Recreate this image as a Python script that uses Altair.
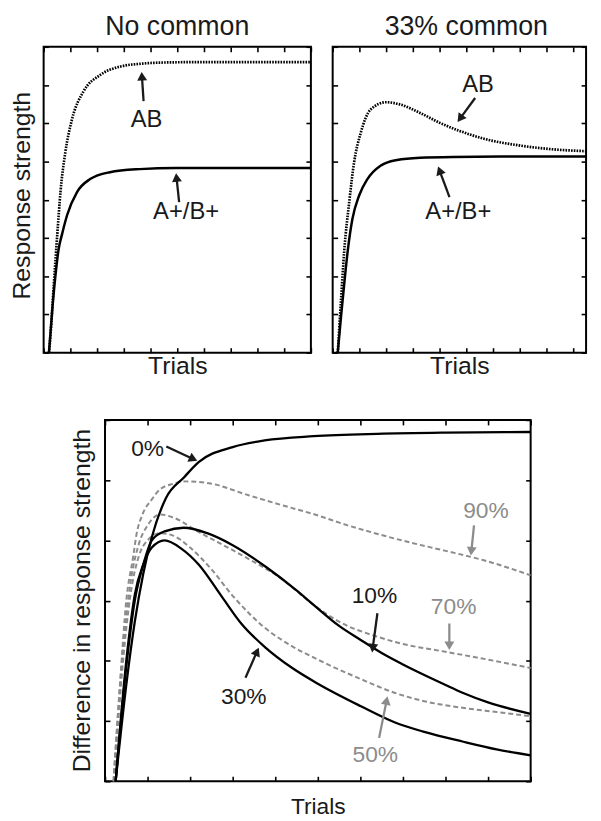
import math
import altair as alt
import pandas as pd

FONT = "Liberation Sans, Arial, Helvetica, sans-serif"
INK = "#1a1a1a"
GREY = "#8c8c8c"

# ---------------- data ----------------
# Top-left panel: "No common"
nc_ab_x = [0.2, 0.26, 0.38, 0.51, 0.63, 0.81, 1.06, 1.49, 2.11, 2.85, 3.7, 4.58, 6.0, 8.0, 10.0]
nc_ab_y = [0.0, 0.49, 1.78, 3.08, 4.2, 5.23, 6.1, 6.83, 7.26, 7.48, 7.56, 7.59, 7.6, 7.6, 7.6]
nc_ap_x = [0.2, 0.32, 0.44, 0.56, 0.69, 0.88, 1.25, 1.74, 2.48, 3.59, 4.95, 7.0, 10.0]
nc_ap_y = [0.0, 1.1, 2.0, 2.7, 3.1, 3.6, 4.2, 4.54, 4.72, 4.8, 4.83, 4.83, 4.83]
nc_labels = ["AB", "A+/B+"]
nc_label_x = [3.85, 5.33]
nc_label_y = [6.09, 3.68]
nc_arrow_x0 = [3.74, 5.07]
nc_arrow_y0 = [6.58, 3.94]
nc_arrow_x1 = [3.67, 4.96]
nc_arrow_y1 = [7.31, 4.66]

# Top-right panel: "33% common"
c33_ab_x = [0.19, 0.31, 0.43, 0.62, 0.8, 1.05, 1.42, 2.0, 2.53, 3.27, 4.01, 4.75, 5.74, 6.98, 8.21, 9.48]
c33_ab_y = [0.0, 1.35, 2.64, 3.94, 4.97, 5.75, 6.36, 6.55, 6.49, 6.27, 6.01, 5.8, 5.58, 5.42, 5.32, 5.27]
c33_ap_x = [0.19, 0.31, 0.43, 0.56, 0.74, 0.99, 1.3, 1.79, 2.41, 3.27, 4.5, 7.0, 9.48]
c33_ap_y = [0.0, 0.92, 1.78, 2.64, 3.5, 4.11, 4.54, 4.89, 5.04, 5.1, 5.12, 5.13, 5.13]
c33_labels = ["AB", "A+/B+"]
c33_label_x = [5.44, 4.7]
c33_label_y = [7.0, 3.68]
c33_arrow_x0 = [5.33, 4.37]
c33_arrow_y0 = [6.66, 4.07]
c33_arrow_x1 = [4.7, 3.96]
c33_arrow_y1 = [6.06, 4.84]

# Bottom panel: difference in response strength
d0_x = [0.25, 0.5, 0.7, 0.9, 1.1, 1.43, 1.86, 2.2, 3.0, 3.75, 4.9, 6.4, 8.0, 10.0]
d0_y = [0.0, 1.6, 2.65, 3.45, 4.05, 4.7, 5.05, 5.3, 5.55, 5.66, 5.73, 5.77, 5.79, 5.8]
d10_x = [0.25, 0.5, 0.7, 0.9, 1.1, 1.4, 1.85, 2.4, 3.0, 3.8, 4.5, 4.9, 5.5, 6.0, 6.5, 7.0, 8.0, 8.4, 9.0, 10.0]
d10_y = [0.0, 1.9, 3.0, 3.6, 4.0, 4.15, 4.21, 4.12, 3.92, 3.55, 3.17, 2.93, 2.58, 2.35, 2.13, 1.94, 1.6, 1.47, 1.31, 1.12]
d30_x = [0.25, 0.5, 0.7, 0.9, 1.1, 1.4, 1.8, 2.2, 2.74, 3.2, 3.77, 4.4, 5.0, 6.0, 6.8, 7.5, 8.4, 9.2, 10.0]
d30_y = [0.0, 2.0, 3.1, 3.6, 3.88, 4.0, 3.86, 3.6, 3.07, 2.62, 2.22, 1.88, 1.62, 1.25, 0.98, 0.82, 0.66, 0.53, 0.43]
d50_x = [0.22, 0.4, 0.6, 0.8, 1.0, 1.3, 1.6, 2.0, 2.5, 3.0, 3.77, 4.4, 5.0, 6.0, 6.8, 7.5, 8.4, 9.2, 10.0]
d50_y = [0.0, 1.8, 3.1, 3.75, 4.0, 4.12, 4.08, 3.88, 3.52, 3.08, 2.54, 2.24, 2.02, 1.7, 1.47, 1.33, 1.22, 1.15, 1.08]
d70_x = [0.2, 0.4, 0.6, 0.8, 1.0, 1.3, 1.6, 2.2, 3.2, 4.15, 4.9, 5.5, 6.4, 7.0, 8.0, 9.0, 10.0]
d70_y = [0.0, 2.0, 3.3, 3.95, 4.25, 4.43, 4.38, 4.14, 3.76, 3.36, 2.93, 2.65, 2.4, 2.28, 2.15, 2.02, 1.88]
d90_x = [0.2, 0.35, 0.5, 0.66, 0.74, 0.88, 1.1, 1.28, 1.6, 1.9, 2.44, 3.37, 4.23, 4.93, 5.7, 6.44, 7.2, 7.98, 8.9, 10.0]
d90_y = [0.0, 1.6, 3.0, 3.72, 4.1, 4.43, 4.68, 4.84, 4.94, 4.98, 4.95, 4.75, 4.57, 4.43, 4.25, 4.1, 3.96, 3.83, 3.67, 3.42]
d_labels = ["0%", "90%", "10%", "70%", "30%", "50%"]
d_label_color = [INK, GREY, INK, GREY, INK, GREY]
d_label_x = [1.0, 8.95, 6.33, 8.19, 3.26, 6.35]
d_label_y = [5.52, 4.49, 3.07, 2.9, 1.39, 0.44]
d_arrow_x0 = [1.44, 8.67, 6.4, 8.09, 3.3, 6.44]
d_arrow_y0 = [5.56, 4.25, 2.79, 2.62, 1.72, 0.72]
d_arrow_x1 = [2.14, 8.6, 6.28, 8.09, 3.6, 6.63]
d_arrow_y1 = [5.33, 3.77, 2.16, 2.2, 2.2, 1.39]

top_xticks = list(range(0, 11))
top_yticks = list(range(0, 9))
bot_xticks = list(range(0, 11))
bot_yticks = list(range(0, 7))


# ---------------- helpers ----------------
TICKS = dict(labels=False, domain=False, grid=False, ticks=True, tickSize=5,
             tickWidth=1.6, tickColor="black", offset=-5, minExtent=0, maxExtent=0)


def axis_bottom_left(w, h, xticks, yticks, xtitle, xfs, xty, ytitle, yfs, ytx, yty):
    tt = dict(titleFont=FONT, titleFontWeight="normal", titleColor=INK,
              titleBaseline="alphabetic", titleAlign="center")
    ax = alt.Axis(orient="bottom", values=xticks, title=xtitle, titleFontSize=xfs,
                  titleX=w / 2, titleY=xty, **tt, **TICKS)
    if ytitle:
        ay = alt.Axis(orient="left", values=yticks, title=ytitle, titleFontSize=yfs,
                      titleX=ytx, titleY=yty, titleAngle=270, **tt, **TICKS)
    else:
        ay = alt.Axis(orient="left", values=yticks, title=None, **TICKS)
    return ax, ay


def axis_top_right(xticks, yticks):
    return (alt.Axis(orient="top", values=xticks, title=None, **TICKS),
            alt.Axis(orient="right", values=yticks, title=None, **TICKS))


def panel(series, labels, lx, ly, lcol, ax0, ay0, ax1, ay1, xdom, ydom, xticks, yticks,
          w, h, label_fs, xtitle, xfs, xty, ytitle, yfs, ytx, yty, title=None, title_fs=27,
          title_dx=0, title_offset=10, title_dy=28):
    sx = w / (xdom[1] - xdom[0])
    sy = h / (ydom[1] - ydom[0])
    xs = alt.Scale(domain=xdom, nice=False, zero=False)
    ys = alt.Scale(domain=ydom, nice=False, zero=False)
    layers = []
    df0 = pd.DataFrame({"x": xdom, "y": ydom})
    axb, ayl = axis_bottom_left(w, h, xticks, yticks, xtitle, xfs, xty, ytitle, yfs, ytx, yty)
    layers.append(alt.Chart(df0).mark_point(opacity=0).encode(
        x=alt.X("x:Q", scale=xs, axis=axb), y=alt.Y("y:Q", scale=ys, axis=ayl)))
    axt, ayr = axis_top_right(xticks, yticks)
    layers.append(alt.Chart(df0).mark_point(opacity=0).encode(
        x=alt.X("x:Q", scale=xs, axis=axt), y=alt.Y("y:Q", scale=ys, axis=ayr)))
    for s in series:
        df = pd.DataFrame({"x": s["x"], "y": s["y"]})
        kw = dict(color=s["color"], strokeWidth=s["width"], interpolate="monotone")
        if s.get("dash"):
            kw["strokeDash"] = s["dash"]
        layers.append(alt.Chart(df).mark_line(**kw).encode(
            x=alt.X("x:Q", scale=xs, axis=None), y=alt.Y("y:Q", scale=ys, axis=None)))
    tdf = pd.DataFrame({"x": lx, "y": ly, "label": labels, "color": lcol})
    layers.append(alt.Chart(tdf).mark_text(font=FONT, fontSize=label_fs, align="center",
                                           baseline="middle").encode(
        x=alt.X("x:Q", scale=xs, axis=None), y=alt.Y("y:Q", scale=ys, axis=None),
        text="label:N", color=alt.Color("color:N", scale=None)))
    rows = []
    for x0, y0, x1, y1, c in zip(ax0, ay0, ax1, ay1, lcol):
        dx = (x1 - x0) * sx
        dy = -(y1 - y0) * sy
        L = math.hypot(dx, dy)
        ux, uy = dx / L, dy / L
        back = 4.5
        hx = x1 - ux * back / sx
        hy = y1 + uy * back / sy
        ang = math.degrees(math.atan2(dx, -dy)) % 360
        rows.append({"x0": x0, "y0": y0, "xe": hx, "ye": hy, "hx": hx, "hy": hy, "ang": ang, "color": c})
    adf = pd.DataFrame(rows)
    layers.append(alt.Chart(adf).mark_rule(strokeWidth=2.3).encode(
        x=alt.X("x0:Q", scale=xs, axis=None), y=alt.Y("y0:Q", scale=ys, axis=None),
        x2="xe:Q", y2="ye:Q", color=alt.Color("color:N", scale=None)))
    layers.append(alt.Chart(adf).mark_point(shape="triangle", filled=True, size=100, opacity=1,
                                            strokeWidth=0).encode(
        x=alt.X("hx:Q", scale=xs, axis=None), y=alt.Y("hy:Q", scale=ys, axis=None),
        angle=alt.Angle("ang:Q", scale=None), color=alt.Color("color:N", scale=None)))
    props = dict(width=w, height=h)
    if title:
        props["title"] = alt.TitleParams(text=title, font=FONT, fontSize=title_fs, fontWeight="normal",
                                         color=INK, anchor="middle", frame="group",
                                         baseline="alphabetic", offset=title_offset, dx=title_dx,
                                         dy=title_dy)
    return alt.layer(*layers).resolve_axis(x="independent", y="independent").properties(**props)


solid_top = dict(color="black", width=2.5)
tl = panel(
    [dict(x=nc_ab_x, y=nc_ab_y, color="black", width=2.7, dash=[1.6, 1.2]),
     dict(x=nc_ap_x, y=nc_ap_y, **solid_top)],
    nc_labels, nc_label_x, nc_label_y, [INK, INK],
    nc_arrow_x0, nc_arrow_y0, nc_arrow_x1, nc_arrow_y1,
    [0, 10], [0, 8], top_xticks, top_yticks, 270, 309, 24,
    "Trials", 25, 26, "Response strength", 25, -19, 150,
    title="No common")

tr = panel(
    [dict(x=c33_ab_x, y=c33_ab_y, color="black", width=2.7, dash=[1.6, 1.2]),
     dict(x=c33_ap_x, y=c33_ap_y, **solid_top)],
    c33_labels, c33_label_x, c33_label_y, [INK, INK],
    c33_arrow_x0, c33_arrow_y0, c33_arrow_x1, c33_arrow_y1,
    [0, 9.48], [0, 8], list(range(0, 10)), top_yticks, 256, 309, 24,
    "Trials", 25, 26, "", 25, -19, 150,
    title="33% common", title_dx=7)

dash_b = [5, 3]
bm = panel(
    [dict(x=d90_x, y=d90_y, color=GREY, width=2, dash=dash_b),
     dict(x=d70_x, y=d70_y, color=GREY, width=2, dash=dash_b),
     dict(x=d50_x, y=d50_y, color=GREY, width=2, dash=dash_b),
     dict(x=d0_x, y=d0_y, color="black", width=2.3),
     dict(x=d10_x, y=d10_y, color="black", width=2.3),
     dict(x=d30_x, y=d30_y, color="black", width=2.3)],
    d_labels, d_label_x, d_label_y, d_label_color,
    d_arrow_x0, d_arrow_y0, d_arrow_x1, d_arrow_y1,
    [0, 10], [0, 6], bot_xticks, bot_yticks, 430, 365, 23,
    "Trials", 23, 38, "Difference in response strength", 25, -21, 182)

spacer = alt.Chart(pd.DataFrame({"a": [0]})).mark_point(opacity=0).encode(
    x=alt.value(0), y=alt.value(0)).properties(
    width=62, height=10, view=alt.ViewBackground(stroke="transparent", strokeWidth=0))

top = alt.hconcat(tl, tr, spacing=22, bounds="flush")
bottom = alt.hconcat(spacer, bm, spacing=0, bounds="flush")
# nested flush groups report no height to the outer layout, so the spacing
# carries the top row's plot height (309) plus the 70px gap.
chart = alt.vconcat(top, bottom, spacing=377, bounds="flush").properties(
    padding={"left": 0, "top": 0, "right": 0, "bottom": 0}, background="white"
).configure_view(stroke="black", strokeWidth=2)

chart.save("out.html", embed_options={"renderer": "svg", "actions": False})
